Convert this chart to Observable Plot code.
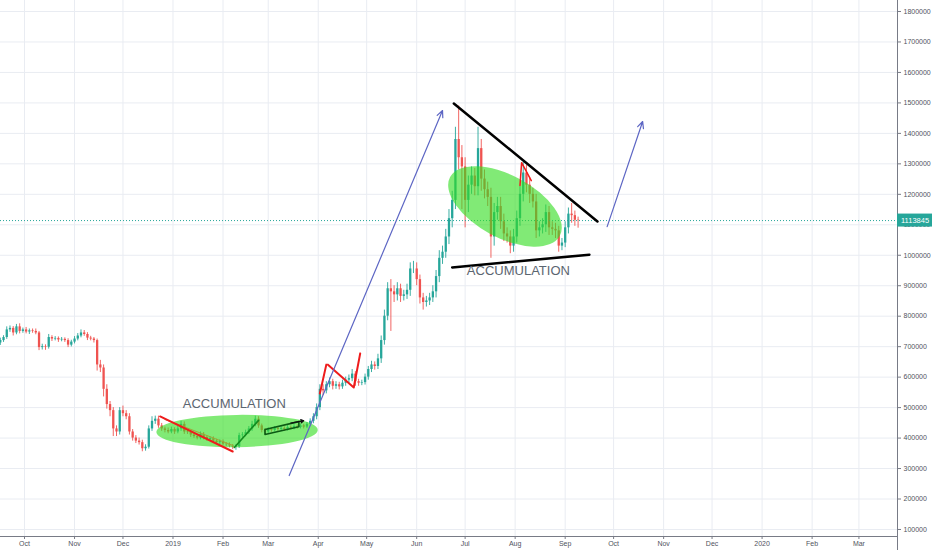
<!DOCTYPE html>
<html><head><meta charset="utf-8">
<script src="https://cdn.jsdelivr.net/npm/d3@7"></script>
<script src="https://cdn.jsdelivr.net/npm/@observablehq/plot@0.6"></script>
<style>
html,body{margin:0;padding:0;background:#fff;}
#chart{width:932px;height:550px;overflow:hidden;}
</style></head><body><div id="chart"></div>
<script>
// ---- data (prices in thousands), 2-day candles starting 2018-09-16 ----
const startDate = "2018-09-16";
const firstOpen = 712;
const closes = [
  720,730,755,760,745,765,750,755,748,752,
  750,745,697,700,698,730,725,727,722,724,
  720,705,715,725,735,745,740,728,725,720,
  640,630,560,510,490,430,420,490,480,470,
  420,400,390,385,365,370,430,455,462,440,
  430,425,420,428,420,430,445,420,418,410,
  405,400,412,402,395,398,390,385,388,380,
  378,374,370,372,408,410,418,430,445,462,
  440,425,420,428,425,432,428,432,428,435,
  432,438,435,440,436,445,455,470,500,560,
  555,575,585,570,575,568,580,590,595,610,
  585,580,582,600,625,640,635,660,720,800,
  890,880,870,890,865,870,885,955,955,920,
  860,845,850,860,880,930,990,1010,1060,1120,
  1180,1380,1320,1290,1180,1230,1260,1225,1350,1250,
  1215,1190,1060,1140,1160,1110,1070,1060,1030,1060,
  1120,1200,1270,1230,1200,1175,1080,1090,1100,1140,
  1090,1085,1080,1030,1040,1090,1135,1130,1115,1113.845
];
const wickHi = [
  8,6,10,8,6,8,10,6,8,6,
  6,8,5,8,6,10,6,6,5,6,
  5,6,6,8,8,10,8,6,6,5,
  5,15,10,15,10,10,10,10,15,10,
  10,8,8,10,8,8,10,15,10,10,
  8,6,8,8,6,8,10,8,6,6,
  6,6,8,6,6,6,6,6,6,6,
  5,6,5,6,8,8,8,8,10,10,
  8,6,6,6,5,6,5,6,5,6,
  5,6,5,6,5,6,8,10,12,15,
  15,10,12,8,10,8,10,10,12,15,
  8,8,8,10,10,12,10,15,15,20,
  20,30,20,20,15,15,20,20,25,20,
  15,15,15,15,20,20,25,20,25,30,
  30,40,110,40,30,30,30,25,70,30,
  30,25,30,30,30,30,25,20,20,25,
  25,25,35,25,25,20,25,20,20,25,
  20,20,20,15,15,20,20,35,15,10
];
const wickLo = [
  8,6,6,8,10,6,8,6,6,8,
  6,6,10,8,10,6,8,6,8,6,
  6,8,6,6,6,6,6,8,6,8,
  20,15,25,15,20,25,15,10,10,10,
  10,10,8,8,10,8,6,8,10,8,
  8,8,6,6,8,6,8,8,6,8,
  6,6,6,8,6,6,6,6,6,6,
  6,6,8,10,6,8,6,6,8,8,
  8,8,6,5,6,5,6,5,6,5,
  5,5,6,5,6,5,6,8,10,10,
  15,10,10,12,10,10,8,10,10,10,
  15,10,8,8,10,10,12,10,15,15,
  15,130,25,20,20,15,15,20,15,20,
  20,25,15,15,15,20,20,20,20,25,
  30,30,40,140,90,40,30,30,30,40,
  30,30,70,30,25,25,25,20,25,20,
  20,25,25,25,30,20,25,20,20,25,
  25,20,25,20,15,15,20,25,20,25
];
const lastPrice = 1113845;
const priceTicks = [100000,200000,300000,400000,500000,600000,700000,800000,900000,1000000,1100000,1200000,1300000,1400000,1500000,1600000,1700000,1800000];
const monthTicks = ["2018-10-01","2018-11-01","2018-12-01","2019-01-01","2019-02-01","2019-03-01","2019-04-01","2019-05-01","2019-06-01","2019-07-01","2019-08-01","2019-09-01","2019-10-01","2019-11-01","2019-12-01","2020-01-01","2020-02-01","2020-03-01"];
const monthLabels = ["Oct","Nov","Dec","2019","Feb","Mar","Apr","May","Jun","Jul","Aug","Sep","Oct","Nov","Dec","2020","Feb","Mar"];

// ---- drawings (date, price in thousands) ----
const arrowUp1 = [["2019-03-14", 277], ["2019-06-17", 1475]];
const arrowUp2 = [["2019-09-27", 1094], ["2019-10-19", 1439]];
const resistLine = [["2019-06-24", 1498], ["2019-09-21", 1111]];
const supportLine = [["2019-06-23", 960], ["2019-09-16", 1002]];
const ellipseTop = {a: ["2019-06-22", 1255], b: ["2019-08-29", 1062], ratio: 0.5};
const ellipseBottom = {a: ["2018-12-22", 418], b: ["2019-04-01", 425], ratio: 0.2};
const wedgeRed = [["2018-12-24", 471], ["2019-02-07", 356]];
const wedgeOlive = [["2018-12-27", 461], ["2019-02-07", 376]];
const legGreen = [["2019-02-08", 369], ["2019-02-23", 458]];
const channel = [["2019-02-27", 428], ["2019-03-20", 454], ["2019-03-20", 437], ["2019-02-27", 412], ["2019-02-27", 428]];
const channelArrow = [["2019-03-15", 449], ["2019-03-23", 457]];
const zigA = [["2019-04-02", 546], ["2019-04-06", 641]];
const zigB = [["2019-04-07", 641], ["2019-04-23", 566], ["2019-04-27", 678]];
const peakTri = [["2019-08-04", 1229], ["2019-08-05", 1304], ["2019-08-11", 1245]];
const noteLabels = [
  {date: "2019-02-08", price: 513, text: "ACCUMULATION"},
  {date: "2019-08-03", price: 950, text: "ACCUMULATION"}
];

// ---- build table ----
const t0 = new Date(startDate);
const candles = closes.map((c, i) => {
  const o = i === 0 ? firstOpen : closes[i - 1];
  return {
    date: d3.utcDay.offset(t0, 2 * i),
    open: o * 1000, close: c * 1000,
    high: (Math.max(o, c) + wickHi[i]) * 1000,
    low: (Math.min(o, c) - wickLo[i]) * 1000,
    up: c >= o
  };
});
const UP = "#26a69a", DOWN = "#ef5350";
const px = d => new Date(d[0]);
const py = d => d[1] * 1000;
const xDomain = [new Date(Date.UTC(2018, 8, 16, 3)), new Date(Date.UTC(2020, 2, 24, 21, 36))];
const yDomain = [76950, 1836100];

function ellipseMark(e) {
  return (index, scales) => {
    const ax = scales.x(new Date(e.a[0])), ay = scales.y(e.a[1] * 1000);
    const bx = scales.x(new Date(e.b[0])), by = scales.y(e.b[1] * 1000);
    const cx = (ax + bx) / 2, cy = (ay + by) / 2;
    const rx = Math.hypot(bx - ax, by - ay) / 2, ry = rx * e.ratio;
    const ang = Math.atan2(by - ay, bx - ax) * 180 / Math.PI;
    return d3.create("svg:ellipse")
      .attr("cx", cx).attr("cy", cy).attr("rx", rx).attr("ry", ry)
      .attr("transform", `rotate(${ang} ${cx} ${cy})`)
      .attr("fill", "#33dd22").attr("fill-opacity", 0.62).node();
  };
}
function priceTag(index, scales, values, dims) {
  const y = scales.y(lastPrice);
  const g = d3.create("svg:g");
  g.append("rect").attr("x", dims.width - dims.marginRight).attr("y", y - 6.5)
    .attr("width", dims.marginRight).attr("height", 13).attr("fill", UP);
  g.append("text").attr("x", dims.width - dims.marginRight + 4).attr("y", y)
    .attr("dy", "0.35em").attr("fill", "#fff").attr("font-size", 7.5)
    .attr("text-anchor", "start")
    .attr("font-family", "Liberation Sans, Arial, sans-serif").text(String(lastPrice));
  return g.node();
}

const lineOpts = (stroke, w) => ({x: px, y: py, stroke, strokeWidth: w, strokeLinecap: "round", strokeLinejoin: "round"});

const chart = Plot.plot({
  width: 932, height: 550,
  marginLeft: 0, marginRight: 35, marginTop: 0, marginBottom: 14,
  style: {fontFamily: "Liberation Sans, Arial, sans-serif", background: "#fff", color: "#50535e"},
  x: {type: "utc", domain: xDomain},
  y: {domain: yDomain},
  marks: [
    Plot.gridX(monthTicks.map(d => new Date(d)), {stroke: "#e9ecf2", strokeOpacity: 1}),
    Plot.gridY(priceTicks, {stroke: "#e9ecf2", strokeOpacity: 1}),
    Plot.ruleX(candles, {x: "date", y1: "low", y2: "high", stroke: d => d.up ? UP : DOWN, strokeWidth: 0.9}),
    Plot.ruleX(candles, {x: "date", y1: "open", y2: "close", stroke: d => d.up ? UP : DOWN, strokeWidth: 2.3}),
    Plot.ruleY([lastPrice], {stroke: UP, strokeDasharray: "1,2", strokeWidth: 1}),
    ellipseMark(ellipseTop),
    ellipseMark(ellipseBottom),
    Plot.line(wedgeOlive, lineOpts("#a3a33a", 1)),
    Plot.line(wedgeRed, lineOpts("#ee1c1c", 2)),
    Plot.line(legGreen, lineOpts("#138a1e", 1.6)),
    Plot.line(channel, lineOpts("#0b5a14", 1.6)),
    Plot.arrow([channelArrow], {x1: d => px(d[0]), y1: d => py(d[0]), x2: d => px(d[1]), y2: d => py(d[1]), stroke: "#111", strokeWidth: 1.2, headLength: 4}),
    Plot.line(zigA, lineOpts("#ee1c1c", 2)),
    Plot.line(zigB, lineOpts("#ee1c1c", 2)),
    Plot.line(peakTri, lineOpts("#ee1c1c", 1.5)),
    Plot.line(resistLine, lineOpts("#000", 2.5)),
    Plot.line(supportLine, lineOpts("#000", 2.5)),
    Plot.arrow([arrowUp1], {x1: d => px(d[0]), y1: d => py(d[0]), x2: d => px(d[1]), y2: d => py(d[1]), stroke: "#5d66c4", strokeWidth: 1.2, headLength: 9, headAngle: 50}),
    Plot.arrow([arrowUp2], {x1: d => px(d[0]), y1: d => py(d[0]), x2: d => px(d[1]), y2: d => py(d[1]), stroke: "#5d66c4", strokeWidth: 1.2, headLength: 9, headAngle: 50}),
    Plot.text(noteLabels, {x: d => new Date(d.date), y: d => d.price * 1000, text: "text", fontSize: 13, fill: "#5b6570"}),
    Plot.axisY({anchor: "right", ticks: priceTicks, tickFormat: d => String(d), tickSize: 3, tickPadding: 3, fontSize: 7, stroke: "#787b86"}),
    Plot.axisX({anchor: "bottom", ticks: monthTicks.map(d => new Date(d)), tickFormat: (d, i) => monthLabels[i], tickSize: 3, tickPadding: 2, fontSize: 7, stroke: "#787b86"}),
    Plot.ruleX([xDomain[1]], {y1: yDomain[0] - 60000, y2: yDomain[1], stroke: "#787b86", strokeWidth: 1, clip: false}),
    Plot.ruleY([yDomain[0]], {x1: xDomain[0], x2: xDomain[1], stroke: "#787b86", strokeWidth: 1}),
    priceTag
  ]
});
document.getElementById("chart").appendChild(chart);
</script>
</body></html>
